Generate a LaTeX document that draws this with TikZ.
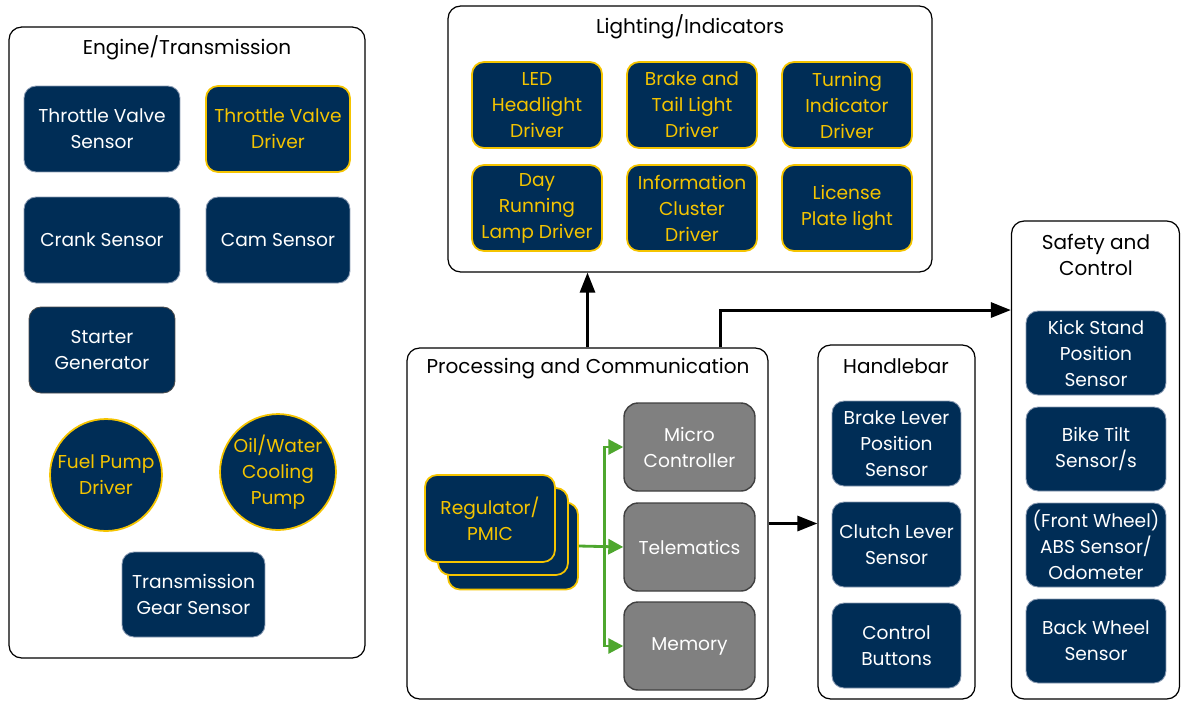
\documentclass[tikz,border=0pt]{standalone}
\usepackage{fontspec}
\setmainfont{Poppins}
\usetikzlibrary{arrows.meta}
\definecolor{navy}{HTML}{002D56}
\definecolor{gold}{HTML}{F5C400}
\definecolor{steel}{HTML}{8A9BB3}
\definecolor{chipgray}{HTML}{808080}
\definecolor{leafgreen}{HTML}{4EA72E}
\begin{document}
\begin{tikzpicture}[x=0.02cm,y=-0.02cm,
    every node/.style={font=\fontsize{10.6}{14.8}\selectfont},
    title/.style={font=\fontsize{11.4}{14.8}\selectfont,align=center},
    group/.style={draw,rounded corners=0.25cm,line width=0.7pt,inner sep=0pt},
    sensor/.style={draw=steel,fill=navy,text=white,rounded corners=0.24cm,align=center,line width=0.5pt,inner sep=0pt},
    driver/.style={draw=gold,fill=navy,text=gold,rounded corners=0.24cm,align=center,line width=1pt,inner sep=0pt},
    pump/.style={circle,draw=gold,fill=navy,text=gold,align=center,line width=1pt,inner sep=0pt,minimum size=2.24cm},
    chip/.style={draw=black!75,fill=chipgray,text=white,rounded corners=0.28cm,align=center,line width=0.8pt,inner sep=0pt,minimum width=2.62cm,minimum height=1.76cm},
    arr/.style={line width=1.7pt,-{Triangle[length=4mm,width=3mm]}},
    garr/.style={leafgreen,line width=1.6pt,-{Triangle[length=3mm,width=3mm]}}]
    \useasboundingbox (0,0) rectangle (1181,701);
    % groups
    \node[group,minimum width=7.12cm,minimum height=12.62cm] (eng) at (187,342.5) {};
    \node[group,minimum width=9.68cm,minimum height=5.32cm] (light) at (690,139) {};
    \node[group,minimum width=7.22cm,minimum height=7.02cm] (proc) at (587.5,523.5) {};
    \node[group,minimum width=3.14cm,minimum height=7.08cm] (handle) at (896.5,522) {};
    \node[group,minimum width=3.36cm,minimum height=9.56cm] (safety) at (1095.5,460) {};
    \node[title] (engT) at (187,48) {Engine/Transmission};
    \node[title] (lightT) at (690,27) {Lighting/Indicators};
    \node[title] (procT) at (588,369) {Processing and Communication};
    \node[title] (handleT) at (896,366) {Handlebar};
    \node[title] (safetyT) at (1096,255) {Safety and\\Control};
    % engine
    \node[sensor,minimum width=3.12cm,minimum height=1.72cm] (tvs) at (102,129) {Throttle Valve\\Sensor};
    \node[driver,minimum width=2.88cm,minimum height=1.72cm] (tvd) at (278,129) {Throttle Valve\\Driver};
    \node[sensor,minimum width=3.12cm,minimum height=1.72cm] (crank) at (102,240) {Crank Sensor};
    \node[sensor,minimum width=2.88cm,minimum height=1.72cm] (cam) at (278,240) {Cam Sensor};
    \node[sensor,draw=black!70,minimum width=2.92cm,minimum height=1.72cm] (starter) at (102,350) {Starter\\Generator};
    \node[pump] (fuel) at (106,475) {Fuel Pump\\Driver};
    \node[pump] (oil) at (278,472) {Oil/Water\\Cooling\\Pump};
    \node[sensor,minimum width=2.86cm,minimum height=1.7cm] (gear) at (193.5,594.5) {Transmission\\Gear Sensor};
    % lighting
    \node[driver,minimum width=2.6cm,minimum height=1.72cm] (led) at (537,105) {LED\\Headlight\\Driver};
    \node[driver,minimum width=2.6cm,minimum height=1.72cm] (brake) at (692,105) {Brake and\\Tail Light\\Driver};
    \node[driver,minimum width=2.6cm,minimum height=1.72cm] (turn) at (847,105) {Turning\\Indicator\\Driver};
    \node[driver,minimum width=2.6cm,minimum height=1.72cm] (drl) at (537,208) {Day\\Running\\Lamp Driver};
    \node[driver,minimum width=2.6cm,minimum height=1.72cm] (info) at (692,208) {Information\\Cluster\\Driver};
    \node[driver,minimum width=2.6cm,minimum height=1.72cm] (plate) at (847,208) {License\\Plate light};
    % processing
    \node[driver,minimum width=2.6cm,minimum height=1.74cm] (reg3) at (513,546) {};
    \node[driver,minimum width=2.6cm,minimum height=1.74cm] (reg2) at (503,531.5) {};
    \node[driver,minimum width=2.6cm,minimum height=1.74cm] (reg) at (490,518.5) {Regulator/\\PMIC};
    \node[chip] (mcu) at (689.5,447) {Micro\\Controller};
    \node[chip] (tel) at (689.5,547) {Telematics};
    \node[chip] (mem) at (689.5,646) {Memory};
    % handlebar
    \node[sensor,minimum width=2.58cm,minimum height=1.7cm] (blever) at (896.5,443.5) {Brake Lever\\Position\\Sensor};
    \node[sensor,minimum width=2.58cm,minimum height=1.7cm] (clever) at (896.5,544.5) {Clutch Lever\\Sensor};
    \node[sensor,minimum width=2.58cm,minimum height=1.7cm] (buttons) at (896.5,645.5) {Control\\Buttons};
    % safety
    \node[sensor,minimum width=2.8cm,minimum height=1.68cm] (kick) at (1096,353) {Kick Stand\\Position\\Sensor};
    \node[sensor,minimum width=2.8cm,minimum height=1.68cm] (tilt) at (1096,449) {Bike Tilt\\Sensor/s};
    \node[sensor,minimum width=2.8cm,minimum height=1.68cm] (abs) at (1096,545) {(Front Wheel)\\ABS Sensor/\\Odometer};
    \node[sensor,minimum width=2.8cm,minimum height=1.68cm] (back) at (1096,641) {Back Wheel\\Sensor};
    % connectors
    \draw[arr] (proc.north) -- (proc.north |- light.south);
    \draw[arr] ([xshift=2.67cm]proc.north) |- ([yshift=3.0cm]safety.west);
    \draw[arr] (proc.east) -- (handle.west |- proc.east);
    \draw[garr] (reg3.east) -- (tel.west);
    \draw[garr] (reg3.east) -- ++(0.52cm,0) |- (mcu.west);
    \draw[garr] (reg3.east) -- ++(0.52cm,0) |- (mem.west);
\end{tikzpicture}
\end{document}
